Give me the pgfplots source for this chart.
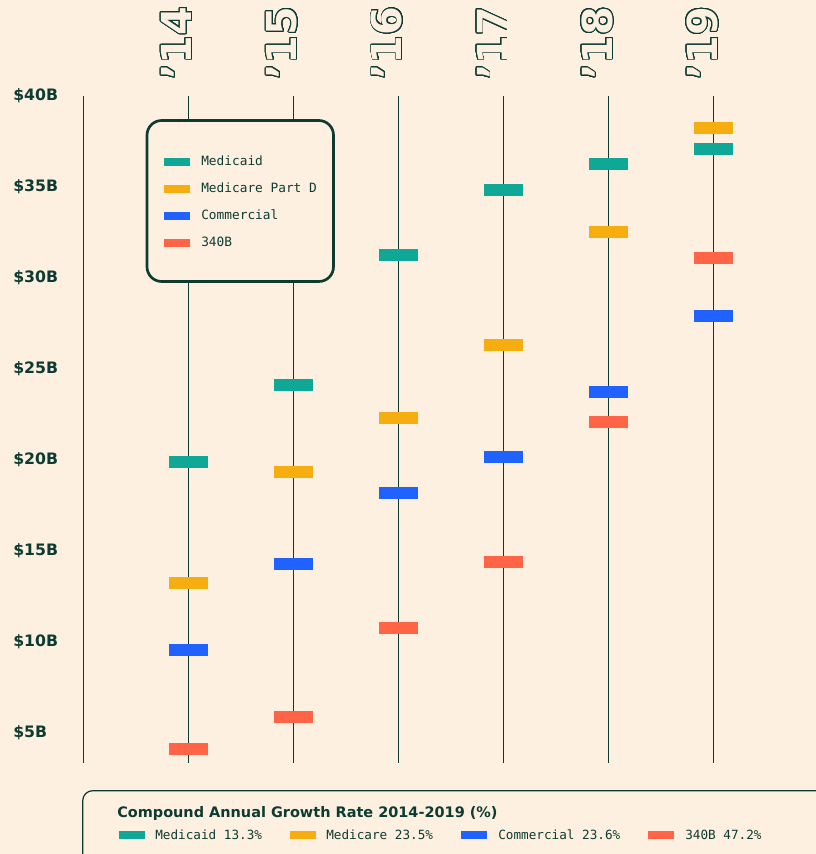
\documentclass[border=0pt]{standalone}
\usepackage{fontspec}
\usepackage{pgfplots}
\pgfplotsset{compat=1.18}
\usepackage{contour}
\contourlength{0.7pt}
\contournumber{32}
\setmainfont{DejaVu Sans}
\newfontfamily\monof{DejaVu Sans Mono}
\definecolor{bg}{HTML}{FDF0E0}
\definecolor{dk}{HTML}{0D3B32}
\definecolor{cMed}{HTML}{0FA896}
\definecolor{cMdd}{HTML}{F5AD10}
\definecolor{cCom}{HTML}{1F62FF}
\definecolor{cB}{HTML}{FF6446}
\pgfdeclareplotmark{hbar}{\pgfpathrectangle{\pgfpoint{-14.6pt}{-4.5pt}}{\pgfpoint{29.2pt}{9pt}}\pgfusepathqfill}
\newcommand{\outl}[1]{\textcolor{bg}{\contour{dk}{#1}}}
\begin{document}
\begin{tikzpicture}
\useasboundingbox (0,0) rectangle (612pt,640.5pt);
\fill[bg] (0,0) rectangle (612pt,640.5pt);
\begin{axis}[
  at={(62.475pt,68.5pt)}, anchor=south west,
  scale only axis, width=496.6pt, height=500pt,
  xmin=-1, xmax=5.3, ymin=3.37, ymax=40,
  clip=false,
  axis line style={draw=none},
  xtick={-1,0,1,2,3,4,5},
  xticklabels={{},{\outl{’14}},{\outl{’15}},{\outl{’16}},{\outl{’17}},{\outl{’18}},{\outl{’19}}},
  xticklabel pos=upper,
  xmajorgrids, grid style={dk, line width=0.85pt},
  major tick length=0pt,
  xticklabel style={rotate=90, anchor=base west, inner sep=0pt, yshift=-2.5pt, font={\fontsize{31pt}{31pt}\selectfont\bfseries}},
  xticklabel shift=12pt,
  ytick={5,10,15,20,25,30,35,40},
  yticklabels={\$5B,\$10B,\$15B,\$20B,\$25B,\$30B,\$35B,\$40B},
  yticklabel style={anchor=west, inner sep=0pt, xshift=-52.7pt, font={\fontsize{11.8pt}{12pt}\selectfont\bfseries}, text=dk},
]
\addplot[only marks, mark=hbar, mark options={fill=cMed, draw=none}] coordinates {(0,19.89) (1,24.12) (2,31.26) (3,34.84) (4,36.26) (5,37.09)};
\addplot[only marks, mark=hbar, mark options={fill=cMdd, draw=none}] coordinates {(0,13.24) (1,19.34) (2,22.31) (3,26.32) (4,32.53) (5,38.24)};
\addplot[only marks, mark=hbar, mark options={fill=cCom, draw=none}] coordinates {(0,9.56) (1,14.29) (2,18.19) (3,20.16) (4,23.74) (5,27.91)};
\addplot[only marks, mark=hbar, mark options={fill=cB, draw=none}] coordinates {(0,4.12) (1,5.88) (2,10.77) (3,14.40) (4,22.09) (5,31.10)};
\end{axis}
\begin{scope}[x=0.75pt, y=-0.75pt, yshift=640.5pt]
  % top legend box
  \draw[dk, line width=2pt, fill=bg, rounded corners=11pt] (147,120.5) rectangle (333.5,281.5);
  \fill[cMed] (164,158) rectangle (190,166);
  \fill[cMdd] (164,185) rectangle (190,193);
  \fill[cCom] (164,212) rectangle (190,220);
  \fill[cB]   (164,239) rectangle (190,247);
  \begin{scope}[every node/.style={anchor=base west, inner sep=0pt, text=dk, font={\monof\fontsize{9.6pt}{10pt}\selectfont}}]
    \node at (201,166) {Medicaid};
    \node at (201,193) {Medicare Part D};
    \node at (201,220) {Commercial};
    \node at (201,247) {340B};
  \end{scope}
  % bottom box
  \draw[dk, line width=0.9pt, fill=bg, rounded corners=7.5pt] (82.7,790.7) rectangle (840,880);
  \node[anchor=base west, inner sep=0pt, text=dk, font={\fontsize{10.85pt}{11pt}\selectfont\bfseries}] at (117,817.3) {Compound Annual Growth Rate 2014-2019 (\%)};
  \fill[cMed] (119,831) rectangle (145,839);
  \fill[cMdd] (290,831) rectangle (316,839);
  \fill[cCom] (461,831) rectangle (487,839);
  \fill[cB]   (648,831) rectangle (674,839);
  \begin{scope}[every node/.style={anchor=base west, inner sep=0pt, text=dk, font={\monof\fontsize{9.5pt}{10pt}\selectfont}}]
    \node at (155,839.3) {Medicaid 13.3\%};
    \node at (326,839.3) {Medicare 23.5\%};
    \node at (498,839.3) {Commercial 23.6\%};
    \node at (685,839.3) {340B 47.2\%};
  \end{scope}
\end{scope}
\end{tikzpicture}
\end{document}
